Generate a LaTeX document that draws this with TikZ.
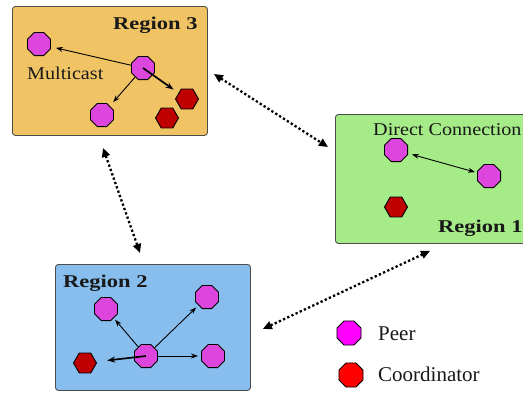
\documentclass[tikz,border=0pt]{standalone}
\usepackage{fontspec}
\setmainfont{Liberation Serif}
\newfontfamily\regfont[FakeStretch=1.25]{Liberation Serif}
\newfontfamily\labfont[FakeStretch=1.12]{Liberation Serif}
\usetikzlibrary{shapes.geometric,arrows.meta}
\definecolor{peerc}{RGB}{220,70,220}
\definecolor{coordc}{RGB}{190,0,0}
\definecolor{rthree}{RGB}{240,195,100}
\definecolor{rone}{RGB}{165,235,135}
\definecolor{rtwo}{RGB}{135,190,238}
\definecolor{lpeer}{RGB}{255,0,255}
\definecolor{lcoord}{RGB}{255,0,0}
\tikzset{
  region/.style={draw=black!70, line width=0.9pt, rounded corners=3pt, inner sep=0pt, anchor=north west},
  peer/.style={regular polygon, regular polygon sides=8, minimum size=25pt, inner sep=0pt, draw=black, line width=0.9pt, fill=peerc},
  coord/.style={regular polygon, regular polygon sides=6, minimum size=23pt, inner sep=0pt, draw=black, line width=0.9pt, fill=coordc},
  msg/.style={-{Stealth[length=7pt,width=5pt]}, line width=0.9pt},
  msgb/.style={-{Stealth[length=8pt,width=6pt]}, line width=1.7pt},
  link/.style={{Triangle[length=9pt,width=8pt]}-{Triangle[length=9pt,width=8pt]}, line width=2.3pt, dash pattern=on 2.3pt off 2.3pt},
  rlabel/.style={font=\regfont\bfseries\fontsize{18}{21}\selectfont, inner sep=0pt, anchor=base west, text=black!90},
  tlabel/.style={font=\labfont\fontsize{18}{21}\selectfont, inner sep=0pt, anchor=base west, text=black!90},
  leglabel/.style={font=\fontsize{21}{24}\selectfont, inner sep=0pt, anchor=base west, text=black!90}
}
\begin{document}
\begin{tikzpicture}[x=1pt,y=-1pt]
\clip (0,0) rectangle (523,392);
\fill[white] (0,0) rectangle (523,392);
% region boxes
\node[region, fill=rthree, minimum width=195pt, minimum height=129pt] (r3) at (12,6) {};
\node[region, fill=rone, minimum width=200pt, minimum height=129pt] (r1) at (335,114) {};
\node[region, fill=rtwo, minimum width=195pt, minimum height=126pt] (r2) at (55,264) {};
% labels
\node[rlabel] (t3) at (113,29) {Region 3};
\node[tlabel] (tm) at (27,79) {Multicast};
\node[tlabel] (td) at (373,135) {Direct Connection};
\node[rlabel] (t1) at (438,232) {Region 1};
\node[rlabel] (t2) at (63,287) {Region 2};
% region 3
\node[peer] (p3a) at (39,44) {};
\node[peer] (p3c) at (143,68) {};
\node[peer] (p3b) at (102,115) {};
\node[coord] (c3a) at (187,99) {};
\node[coord] (c3b) at (167,118) {};
\draw[msg, shorten >=5pt] (p3c) -- (p3a);
\draw[msg, shorten >=5pt] (p3c) -- (p3b);
\draw[msgb, shorten >=6pt] (p3c.center) -- (c3a);
% region 1
\node[peer] (p1a) at (396,150) {};
\node[peer] (p1b) at (489,176) {};
\node[coord] (c1) at (396,207) {};
\draw[{Stealth[length=7pt,width=5pt]}-{Stealth[length=7pt,width=5pt]}, line width=0.9pt, shorten <=4pt, shorten >=2pt] (p1a) -- (p1b);
% region 2
\node[peer] (p2a) at (106,309) {};
\node[peer] (p2b) at (207,297) {};
\node[peer] (p2c) at (146,356) {};
\node[peer] (p2d) at (213,356) {};
\node[coord] (c2) at (85,363) {};
\draw[msg, shorten >=2pt] (p2c) -- (p2a);
\draw[msg, shorten >=3pt] (p2c) -- (p2b);
\draw[msg, shorten >=3pt] (p2c) -- (p2d);
\draw[msgb, shorten >=11pt] (p2c.center) -- (c2);
% links between regions
\draw[link] ([shift={(6,68)}]r3.north east) -- ([shift={(-7,33)}]r1.north west);
\draw[link] ([shift={(91,12)}]r3.south west) -- ([shift={(85,-11)}]r2.north west);
\draw[link] ([shift={(12,65)}]r2.north east) -- ([shift={(95,7)}]r1.south west);
% legend
\node[peer, fill=lpeer, minimum size=26pt] (lp) at (349,333) {};
\node[peer, fill=lcoord, minimum size=26pt] (lc) at (351,375) {};
\node[leglabel] (lpt) at (378,340) {Peer};
\node[leglabel] (lct) at (378,381) {Coordinator};
\end{tikzpicture}
\end{document}
